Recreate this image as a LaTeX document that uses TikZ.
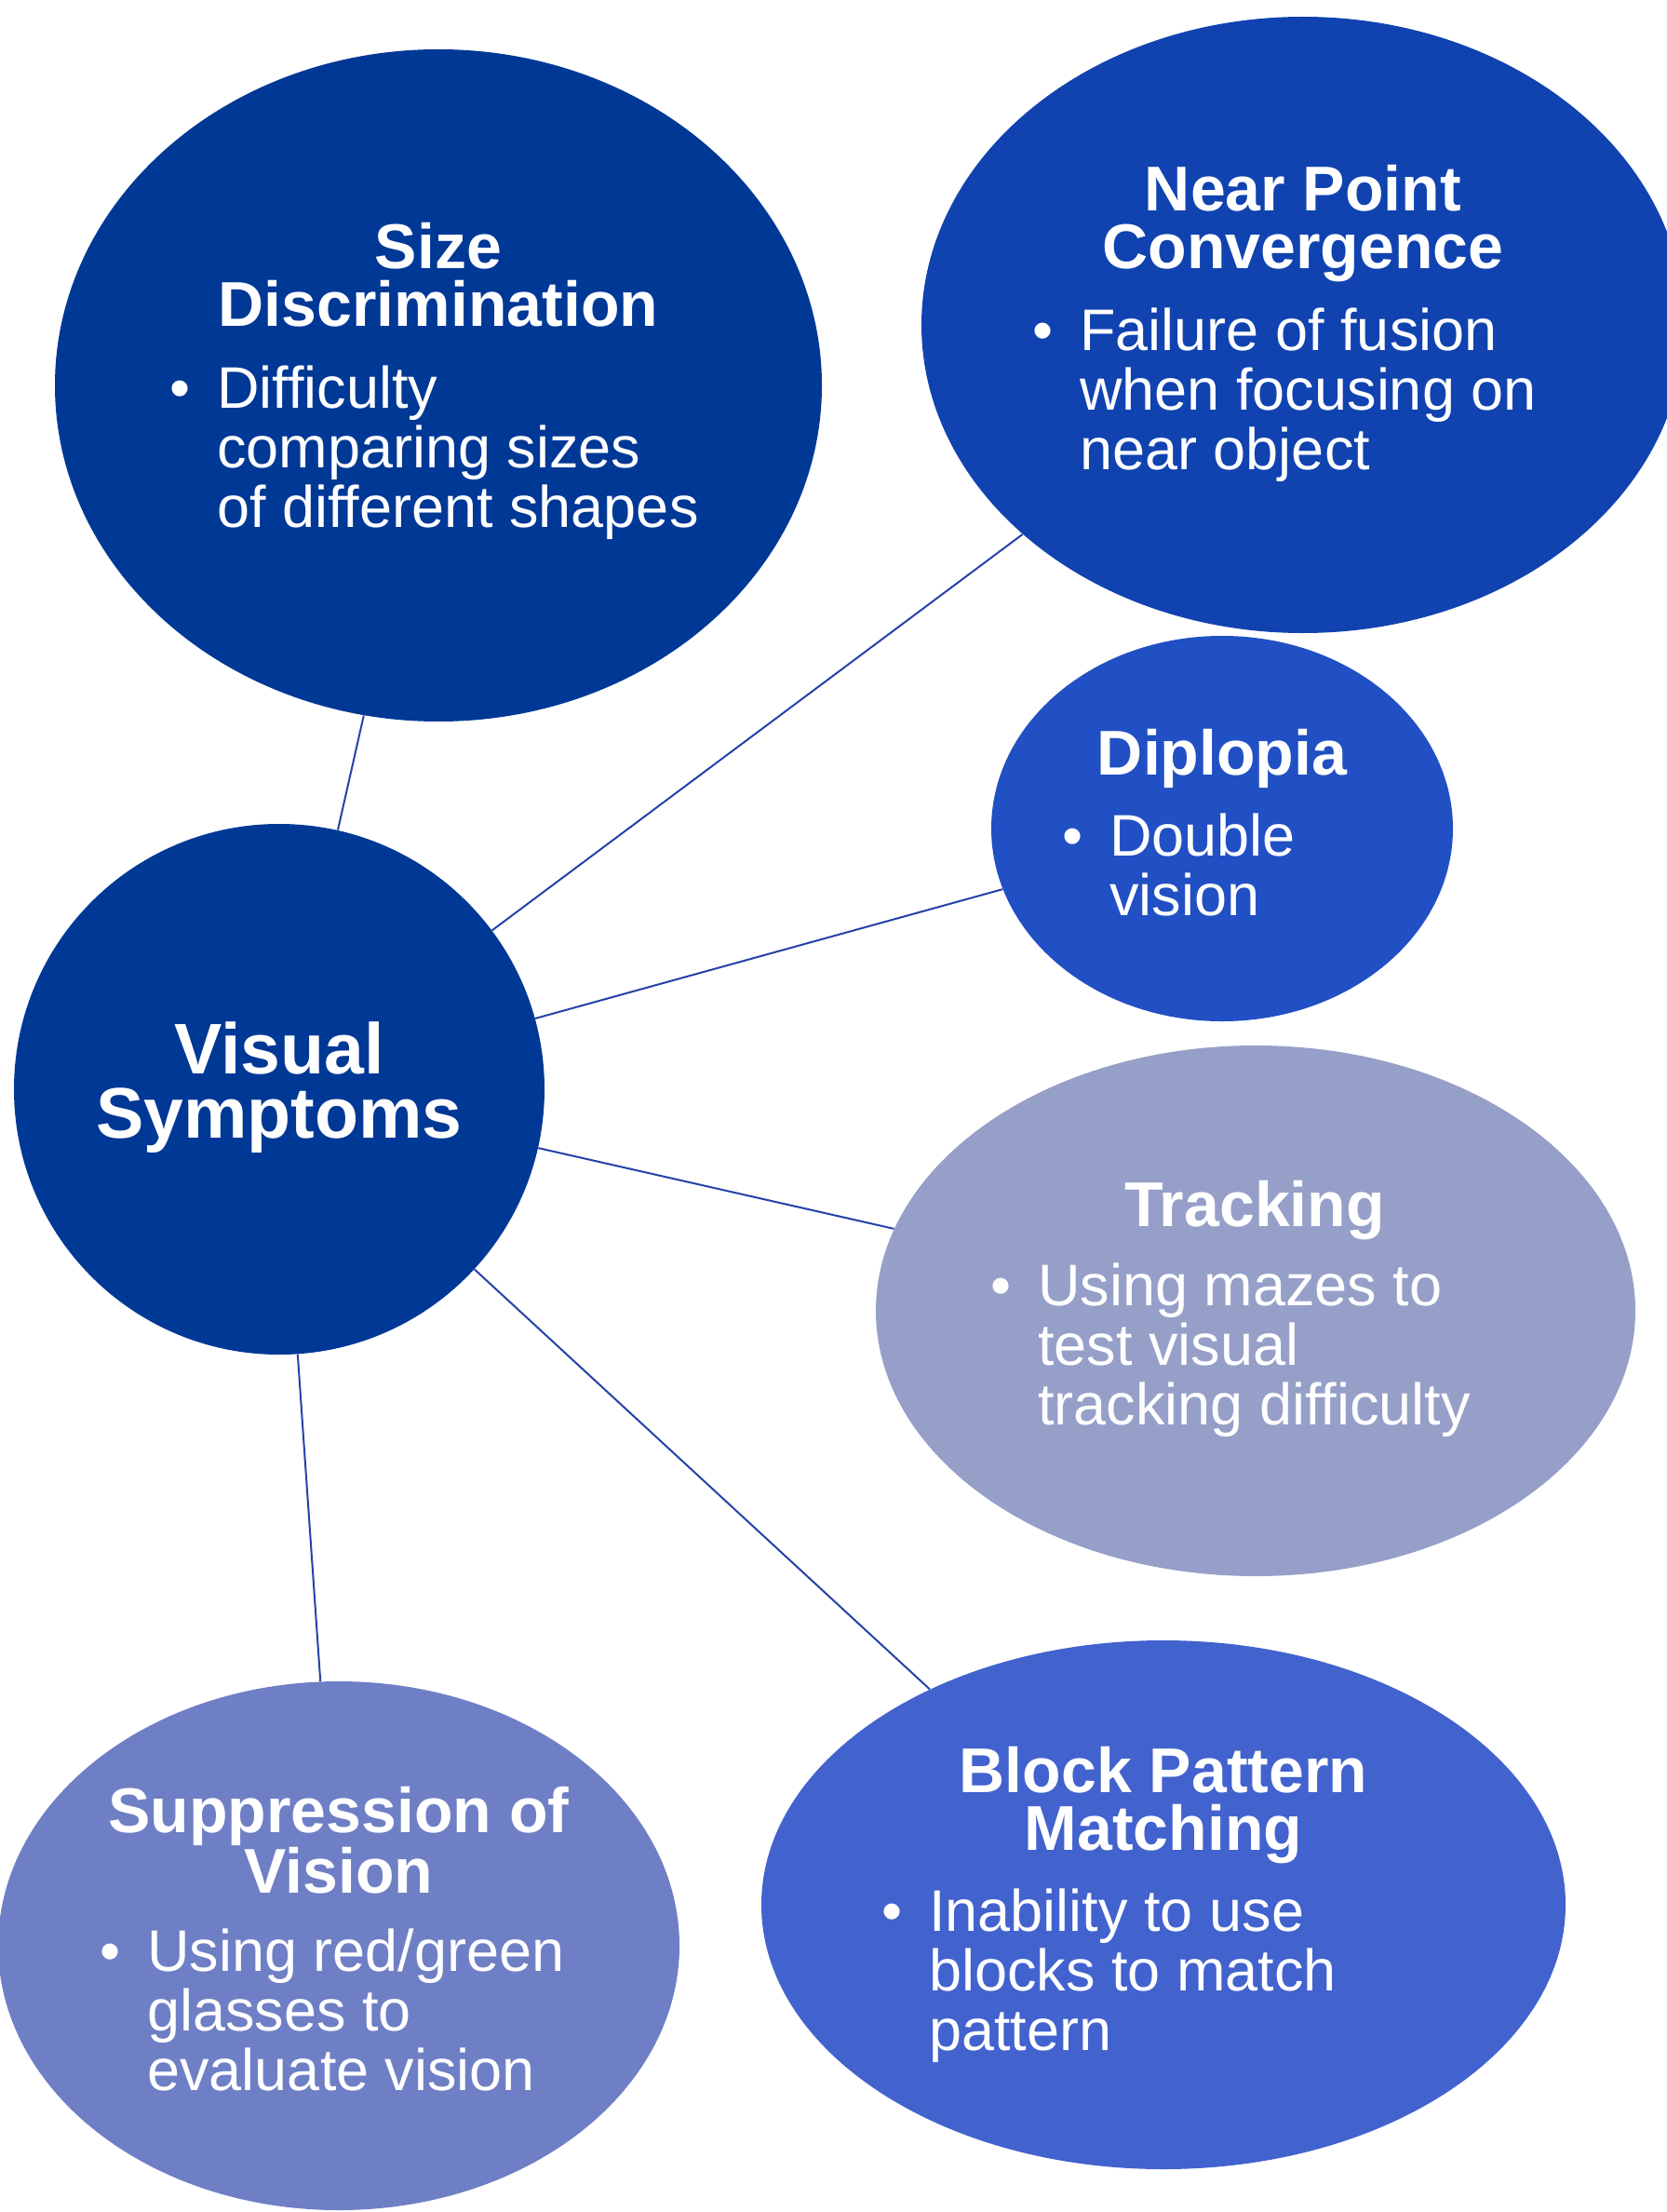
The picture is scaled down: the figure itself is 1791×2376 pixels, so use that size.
\documentclass[tikz,border=0pt]{standalone}
\usepackage{fontspec}
\setmainfont{Liberation Sans}
\usetikzlibrary{shapes.geometric}
\definecolor{cdark}{HTML}{003896}
\definecolor{cnear}{HTML}{1043B0}
\definecolor{cdip}{HTML}{2150C4}
\definecolor{ctrack}{HTML}{969FC8}
\definecolor{csupp}{HTML}{6F7FC5}
\definecolor{cblock}{HTML}{4262CE}
\definecolor{clink}{HTML}{2542A8}
\tikzset{
  bub/.style={ellipse, draw=none, inner sep=0pt},
  ttl/.style={inner sep=0pt, text=white, anchor=base, font=\bfseries\fontsize{34}{31}\selectfont},
  bdy/.style={inner sep=0pt, text=white, anchor=base west, font=\fontsize{31.5}{32}\selectfont},
  link/.style={draw=clink, line width=1pt}
}
\newcommand{\ttlbox}[1]{\parbox[t]{320pt}{\centering #1}}
\newcommand{\bulbox}[1]{\makebox[25.5pt][l]{\textbullet}\parbox[t]{300pt}{#1}}
\begin{document}
\begin{tikzpicture}[x=0.5pt,y=-0.5pt]
\useasboundingbox (0,0) rectangle (1791,2376);
\clip (0,0) rectangle (1791,2376);
% bubbles
\node[bub, fill=cdark, minimum width=412pt, minimum height=361pt] (sd) at (471,414) {};
\node[bub, fill=cnear, minimum width=410pt, minimum height=331pt] (np) at (1400,349) {};
\node[bub, fill=cdip, minimum width=248pt, minimum height=207pt] (dp) at (1313,890) {};
\node[circle, fill=cdark, draw=none, inner sep=0pt, minimum size=285pt] (vs) at (300,1170) {};
\node[bub, fill=ctrack, minimum width=408pt, minimum height=285pt] (tr) at (1349,1408) {};
\node[bub, fill=csupp, minimum width=366pt, minimum height=284pt] (su) at (364,2090) {};
\node[bub, fill=cblock, minimum width=432pt, minimum height=284pt] (bp) at (1250,2046) {};
% connectors
\draw[link] (vs) -- (sd);
\draw[link] (vs) -- (np);
\draw[link] (vs) -- (dp);
\draw[link] (vs) -- (tr);
\draw[link] (vs) -- (bp);
\draw[link] (vs) -- (su);
% texts
\node[ttl] (sdt) at (471,288) {\ttlbox{Size\\Discrimination}};
\node[bdy] (sdb) at (182,438) {\bulbox{Difficulty\\comparing sizes\\of different shapes}};
\node[ttl] (npt) at (1400,227) {\ttlbox{Near Point\\Convergence}};
\node[bdy] (npb) at (1109,376) {\bulbox{Failure of fusion\\when focusing on\\near object}};
\node[ttl] (dpt) at (1313,832) {\ttlbox{Diplopia}};
\node[bdy] (dpb) at (1141,919) {\bulbox{Double\\vision}};
\node[ttl, font=\bfseries\fontsize{38.5}{34.5}\selectfont] (vst) at (300,1153) {\ttlbox{Visual\\Symptoms}};
\node[ttl] (trt) at (1348,1317) {\ttlbox{Tracking}};
\node[bdy] (trb) at (1064,1402) {\bulbox{Using mazes to\\test visual\\tracking difficulty}};
\node[ttl] (sut) at (364,1968) {\ttlbox{Suppression of\\Vision}};
\node[bdy] (sub) at (107,2117) {\bulbox{Using red/green\\glasses to\\evaluate vision}};
\node[ttl] (bpt) at (1250,1925) {\ttlbox{Block Pattern\\Matching}};
\node[bdy] (bpb) at (947,2074) {\bulbox{Inability to use\\blocks to match\\pattern}};
\end{tikzpicture}
\end{document}
